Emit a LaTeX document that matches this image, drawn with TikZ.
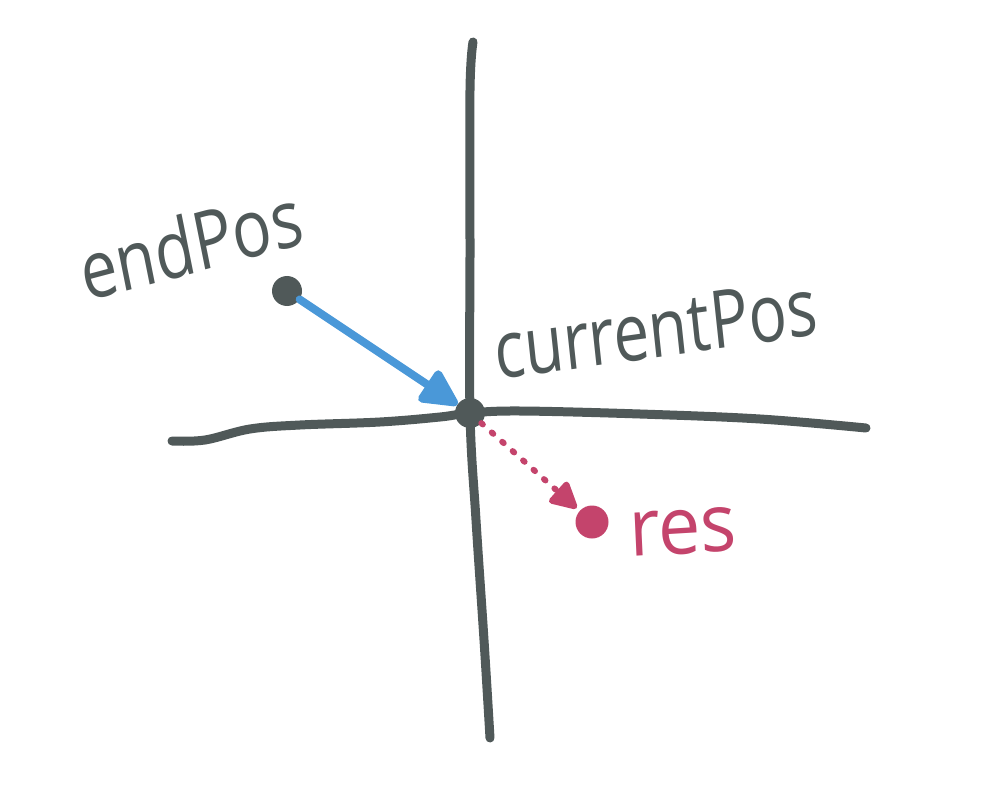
\documentclass[tikz,border=0pt]{standalone}
\usepackage{fontspec}
\setmainfont{Open Sans}
\usetikzlibrary{arrows.meta}
\definecolor{ink}{HTML}{505959}
\definecolor{skyblue}{HTML}{4A98D8}
\definecolor{berry}{HTML}{C4446C}
\tikzset{
  axis/.style={draw=ink, line width=9pt, line cap=round, line join=round},
  inkdot/.style={circle, fill=ink, minimum size=30pt, inner sep=0pt},
  berrydot/.style={circle, fill=berry, minimum size=33pt, inner sep=0pt},
  velocity/.style={draw=skyblue, line width=8pt, line cap=round,
    -{Triangle[length=42pt,width=40pt,round]}},
  result/.style={draw=berry, line width=6pt, line cap=round,
    dash pattern=on 2pt off 12pt,
    -{Triangle[length=30pt,width=30pt,round]}},
  handlabel/.style={font=\fontsize{70}{70}\selectfont, inner sep=0pt, yscale=1.15}
}
\begin{document}
\begin{tikzpicture}[x=1pt,y=-1pt]
  \useasboundingbox (0,0) rectangle (982,810);
  % axes
  \draw[axis] plot[smooth, tension=0.6] coordinates
    {(172,441) (205,440) (250,429) (300,425) (380,422) (440,417) (470,413) (520,411) (640,414) (760,419) (866,428)};
  \draw[axis] plot[smooth, tension=0.6] coordinates
    {(473,42) (470,90) (470,250) (470,413) (476,520) (484,640) (490,738)};
  % points
  \node[inkdot] (cur) at (470,413) {};
  \node[inkdot] (end) at (287,291) {};
  \node[berrydot] (res) at (592,522) {};
  % arrows
  \draw[velocity] (end) -- (cur);
  \draw[result, shorten >=4pt] (cur) -- (res);
  % labels
  \node[handlabel, text=ink, rotate=13, xscale=0.93, anchor=base west] (endlbl) at (86,302) {endPos};
  \node[handlabel, text=ink, rotate=7, xscale=0.91, anchor=base west] (curlbl) at (497,380) {currentPos};
  \node[handlabel, text=berry, rotate=3, xscale=1.08, anchor=base west] (reslbl) at (630,557) {res};
\end{tikzpicture}
\end{document}
